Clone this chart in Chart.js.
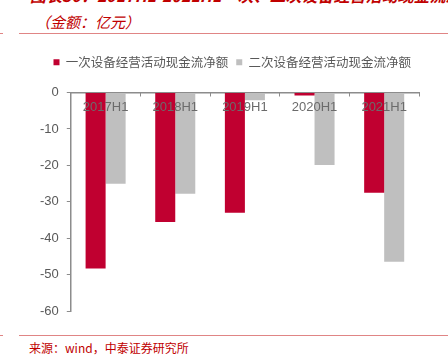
<!DOCTYPE html>
<html>
<head>
<meta charset="utf-8">
<script src="https://cdn.jsdelivr.net/npm/chart.js@4/dist/chart.umd.min.js"></script>
<style>
  body { margin: 0; width: 448px; height: 360px; background: #fff; position: relative; overflow: hidden; }
  .t1 { position: absolute; left: 30px; top: -17px; font: italic bold 16px "Noto Sans CJK SC"; color: #C00000; white-space: nowrap; }
  .t2 { position: absolute; left: 35px; top: 11px; font: italic 15px "Noto Sans CJK SC"; color: #C00000; white-space: nowrap; }
  .rule { position: absolute; left: 19px; right: 0; height: 1px; background: #E08585; }
  .stub { position: absolute; left: 0; width: 3px; height: 1px; background: #E08585; }
  .src { position: absolute; left: 29px; top: 339px; font: 12px "Noto Sans CJK SC"; color: #C00000; white-space: nowrap; }
  #wrap { position: absolute; left: 0; top: 40px; width: 448px; height: 287px; }
</style>
</head>
<body>
<div class="t1">图表30：2017H1-2021H1一次、二次设备经营活动现金流净额情况</div>
<div class="t2">（金额：亿元）</div>
<div class="stub" style="top:33px"></div>
<div class="rule" style="top:33px"></div>
<div class="stub" style="top:335px"></div>
<div class="rule" style="top:335px"></div>
<div class="src">来源：wind，中泰证券研究所</div>
<div id="wrap"><canvas id="c"></canvas></div>
<script>
const periods = ["2017H1", "2018H1", "2019H1", "2020H1", "2021H1"];
const primaryFlow = [-48.3, -35.5, -33.0, -0.8, -27.5];
const secondaryFlow = [-25.0, -27.8, -2.1, -19.9, -46.4];
const yTicks = [0, -10, -20, -30, -40, -50, -60];

// category labels sit just under the zero line, over the bars
const innerLabels = {
  id: "innerLabels",
  afterDatasetsDraw(chart) {
    const ctx = chart.ctx;
    const x = chart.scales.x;
    ctx.save();
    ctx.font = "13px 'Liberation Sans'";
    ctx.fillStyle = "#6b6b6b";
    ctx.textAlign = "center";
    ctx.textBaseline = "middle";
    periods.forEach((p, i) => {
      ctx.fillText(p, x.getPixelForValue(i), chart.chartArea.top + 15);
    });
    ctx.restore();
  }
};

new Chart(document.getElementById("c"), {
  type: "bar",
  data: {
    labels: periods,
    datasets: [
      {
        label: "一次设备经营活动现金流净额",
        data: primaryFlow,
        backgroundColor: "#C00030",
        categoryPercentage: 0.575,
        barPercentage: 1
      },
      {
        label: "二次设备经营活动现金流净额",
        data: secondaryFlow,
        backgroundColor: "#BFBFBF",
        categoryPercentage: 0.575,
        barPercentage: 1
      }
    ]
  },
  options: {
    responsive: true,
    maintainAspectRatio: false,
    animation: false,
    layout: { padding: { top: 8, right: 29, bottom: 4, left: 32 } },
    plugins: {
      legend: {
        position: "top",
        align: "end",
        labels: {
          boxWidth: 6,
          boxHeight: 6,
          padding: 8,
          color: "#595959",
          font: { family: "Noto Sans CJK SC", size: 12.5 }
        }
      },
      tooltip: { enabled: false }
    },
    scales: {
      x: {
        position: "top",
        ticks: { display: false },
        grid: { drawOnChartArea: false, tickLength: -4, color: "#8c8c8c", offset: true },
        border: { color: "#8c8c8c", width: 1.5 },
        afterFit: (s) => { s.height = 14; }
      },
      y: {
        min: -60,
        max: 0,
        afterBuildTicks: (s) => { s.ticks = yTicks.map(v => ({ value: v })); },
        ticks: {
          color: "#595959",
          padding: 8,
          font: { family: "Liberation Sans", size: 13 }
        },
        grid: { drawOnChartArea: false, tickLength: 4, color: "#8c8c8c" },
        border: { color: "#8c8c8c", width: 1.5 }
      }
    }
  },
  plugins: [innerLabels]
});
</script>
</body>
</html>
